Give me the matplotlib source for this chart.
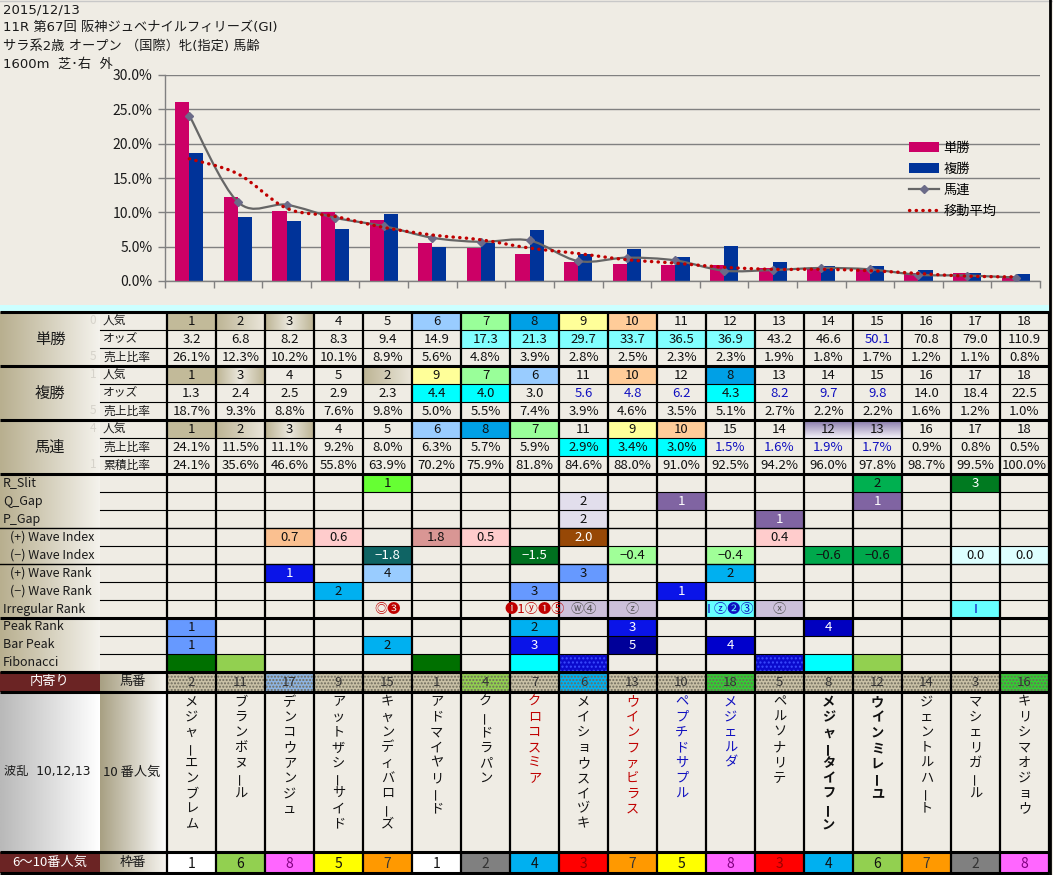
import numpy as np
import matplotlib
matplotlib.use('Agg')
import matplotlib.pyplot as plt
import matplotlib.colors as mcolors
from matplotlib.patches import Rectangle, PathPatch, Patch
from matplotlib.path import Path
from matplotlib.lines import Line2D

plt.rcParams['font.family'] = ['Noto Sans CJK JP', 'DejaVu Sans']
MIXED = ['DejaVu Sans', 'Noto Sans CJK JP']

# ---------------- data ----------------
header_lines = ["2015/12/13",
                "11R 第67回 阪神ジュベナイルフィリーズ(GI)",
                "サラ系2歳 オープン （国際）牝(指定) 馬齢",
                "1600m  芝･右  外"]

win_pop = [1, 2, 3, 4, 5, 6, 7, 8, 9, 10, 11, 12, 13, 14, 15, 16, 17, 18]
win_odds = [3.2, 6.8, 8.2, 8.3, 9.4, 14.9, 17.3, 21.3, 29.7, 33.7, 36.5, 36.9, 43.2, 46.6, 50.1, 70.8, 79.0, 110.9]
win_share = [26.1, 12.3, 10.2, 10.1, 8.9, 5.6, 4.8, 3.9, 2.8, 2.5, 2.3, 2.3, 1.9, 1.8, 1.7, 1.2, 1.1, 0.8]
place_pop = [1, 3, 4, 5, 2, 9, 7, 6, 11, 10, 12, 8, 13, 14, 15, 16, 17, 18]
place_odds = [1.3, 2.4, 2.5, 2.9, 2.3, 4.4, 4.0, 3.0, 5.6, 4.8, 6.2, 4.3, 8.2, 9.7, 9.8, 14.0, 18.4, 22.5]
place_share = [18.7, 9.3, 8.8, 7.6, 9.8, 5.0, 5.5, 7.4, 3.9, 4.6, 3.5, 5.1, 2.7, 2.2, 2.2, 1.6, 1.2, 1.0]
quin_pop = [1, 2, 3, 4, 5, 6, 8, 7, 11, 9, 10, 15, 14, 12, 13, 16, 17, 18]
quin_share = [24.1, 11.5, 11.1, 9.2, 8.0, 6.3, 5.7, 5.9, 2.9, 3.4, 3.0, 1.5, 1.6, 1.9, 1.7, 0.9, 0.8, 0.5]
quin_cum = [24.1, 35.6, 46.6, 55.8, 63.9, 70.2, 75.9, 81.8, 84.6, 88.0, 91.0, 92.5, 94.2, 96.0, 97.8, 98.7, 99.5, 100.0]
moving_avg = [17.8, 15.6, 10.6, 9.4, 7.8, 6.7, 6.0, 4.8, 4.0, 3.1, 2.6, 2.0, 1.7, 1.7, 1.5, 1.1, 0.7, 0.6]

r_slit = ['', '', '', '', '1', '', '', '', '', '', '', '', '', '', '2', '', '3', '']
q_gap = ['', '', '', '', '', '', '', '', '2', '', '1', '', '', '', '1', '', '', '']
p_gap = ['', '', '', '', '', '', '', '', '2', '', '', '', '1', '', '', '', '', '']
wave_index_plus = ['', '', '0.7', '0.6', '', '1.8', '0.5', '', '2.0', '', '', '', '0.4', '', '', '', '', '']
wave_index_minus = ['', '', '', '', '−1.8', '', '', '−1.5', '', '−0.4', '', '−0.4', '', '−0.6', '−0.6', '', '0.0', '0.0']
wave_rank_plus = ['', '', '1', '', '4', '', '', '', '3', '', '', '2', '', '', '', '', '', '']
wave_rank_minus = ['', '', '', '2', '', '', '', '3', '', '', '1', '', '', '', '', '', '', '']
irregular_rank = ['', '', '', '', '◎❸', '', '', '❶1ⓨ❶⑤', 'ⓦ④', 'ⓩ', '', 'I ⓩ❷③', 'ⓧ', '', '', '', 'I', '']
peak_rank = ['1', '', '', '', '', '', '', '2', '', '3', '', '', '', '4', '', '', '', '']
bar_peak = ['1', '', '', '', '2', '', '', '3', '', '5', '', '4', '', '', '', '', '', '']
fibonacci = ['', '', '', '', '', '', '', '', '', '', '', '', '', '', '', '', '', '']

horse_no = [2, 11, 17, 9, 15, 1, 4, 7, 6, 13, 10, 18, 5, 8, 12, 14, 3, 16]
horse_names = ["メジャーエンブレム", "ブランボヌール", "デンコウアンジュ", "アットザシーサイド",
               "キャンディバローズ", "アドマイヤリード", "クードラパン", "クロコスミア",
               "メイショウスイヅキ", "ウインファビラス", "ペプチドサプル", "メジェルダ",
               "ペルソナリテ", "メジャータイフーン", "ウインミレーユ", "ジェントルハート",
               "マシェリガール", "キリシマオジョウ"]
frame_no = [1, 6, 8, 5, 7, 1, 2, 4, 3, 7, 5, 8, 3, 4, 6, 7, 2, 8]

# ---------------- styles ----------------
W, H = 1053, 875
BG = '#EFECE4'
KHAKI = '#C2BA99'
C_WIN, C_PLACE, C_QUIN, C_MA = '#CC0066', '#003399', '#666666', '#C00000'

fig = plt.figure(figsize=(W / 100, H / 100), dpi=100, facecolor=BG)
tab = fig.add_axes([0, 0, 1, 1])
tab.set_xlim(0, W)
tab.set_ylim(H, 0)
tab.axis('off')
tab.set_zorder(0)

FS = 9.5


def rect(x0, y0, x1, y1, color, z=1, **kw):
    tab.add_patch(Rectangle((x0, y0), x1 - x0, y1 - y0, facecolor=color,
                            edgecolor=kw.pop('edgecolor', 'none'), zorder=z, **kw))


def grad(x0, y0, x1, y1, c0, c1, direction='h', mode='lin', z=1.2):
    t = np.linspace(0, 1, 64)
    if mode == 'center':
        t = 1 - np.abs(2 * t - 1)
    a = np.array(mcolors.to_rgb(c0))
    b = np.array(mcolors.to_rgb(c1))
    arr = a[None, :] * (1 - t[:, None]) + b[None, :] * t[:, None]
    img = arr[None, :, :] if direction == 'h' else arr[:, None, :]
    tab.imshow(img, extent=(x0, x1, y1, y0), aspect='auto',
               interpolation='bilinear', zorder=z)


# header
hdr_y = [10, 28, 46, 64]
for s, yy in zip(header_lines, hdr_y):
    tab.text(3, yy, s, fontsize=9.5, va='center', ha='left', color='#1a1a1a', family=MIXED)

# frame lines of top area
tab.plot([0, W], [0.5, 0.5], color='#C8C8C8', lw=1, zorder=5)
rect(0, 305, 1049, 311, '#CCFFFF', z=1)

# ---------------- table geometry ----------------
X0, CW, NC = 167, 49, 18
col_x = [X0 + i * CW for i in range(NC + 1)]
RT = 312
RH = 18
row_y = [RT + r * RH for r in range(21)]        # 20 rows -> 672
Y_NO0, Y_NO1 = 672, 692
Y_NM1 = 852
Y_FR1 = 873

# base background of data area
rect(100, RT, 1049, Y_FR1, BG, z=0.5)

# left label column gradient (rows 0..19)
grad(0, RT, 100, row_y[20], '#B8AF8F', '#F4F2EC')

group_labels = [('単勝', 0), ('複勝', 3), ('馬連', 6)]
for s, r in group_labels:
    tab.text(50, (row_y[r] + row_y[r + 3]) / 2, s, fontsize=11, ha='center', va='center',
             color='#1a1a1a', zorder=6)
sub_labels = ['人気', 'オッズ', '売上比率', '人気', 'オッズ', '売上比率', '人気', '売上比率', '累積比率']
for r, s in enumerate(sub_labels):
    tab.text(103, (row_y[r] + row_y[r + 1]) / 2, s, fontsize=8.5, ha='left', va='center',
             color='#1a1a1a', zorder=6)
faint = {0: '0', 2: '5', 3: '1', 5: '5', 6: '4', 8: '1'}
for r, s in faint.items():
    tab.text(93, (row_y[r] + row_y[r + 1]) / 2, s, fontsize=8.5, ha='center', va='center',
             color='#D6D3CB', zorder=6)

ind_labels = ['R_Slit', 'Q_Gap', 'P_Gap', '(+) Wave Index', '(−) Wave Index',
              '(+) Wave Rank', '(−) Wave Rank', 'Irregular Rank', 'Peak Rank', 'Bar Peak', 'Fibonacci']
for k, s in enumerate(ind_labels):
    r = 9 + k
    xx = 10 if s.startswith('(') else 3
    tab.text(xx, (row_y[r] + row_y[r + 1]) / 2, s, fontsize=9, ha='left', va='center',
             color='#1a1a1a', zorder=6)

# ---------------- table cells ----------------
main_rows = [
    [str(v) for v in win_pop],
    ['%.1f' % v for v in win_odds],
    ['%.1f%%' % v for v in win_share],
    [str(v) for v in place_pop],
    ['%.1f' % v for v in place_odds],
    ['%.1f%%' % v for v in place_share],
    [str(v) for v in quin_pop],
    ['%.1f%%' % v for v in quin_share],
    ['%.1f%%' % v for v in quin_cum],
]
ind_rows = [r_slit, q_gap, p_gap, wave_index_plus, wave_index_minus, wave_rank_plus,
            wave_rank_minus, irregular_rank, peak_rank, bar_peak, fibonacci]

LB, LG, B8, YL, PC = '#99CCFF', '#99FF99', '#00A0E6', '#FFFF99', '#FFCC99'
CY1, CY2 = '#80FFFF', '#00FFFF'
bg_map = {
    (0, 6): LB, (0, 7): LG, (0, 8): B8, (0, 9): YL, (0, 10): PC,
    (1, 7): CY1, (1, 8): CY1, (1, 9): CY1, (1, 10): CY1, (1, 11): CY1, (1, 12): CY1,
    (3, 6): YL, (3, 7): LG, (3, 8): LB, (3, 10): PC, (3, 12): B8,
    (4, 6): CY2, (4, 7): CY2, (4, 12): CY2,
    (6, 6): LB, (6, 7): B8, (6, 8): LG, (6, 10): YL, (6, 11): PC,
    (7, 9): CY2, (7, 10): CY2, (7, 11): CY2,
    (9, 5): '#66FF33', (9, 15): '#00B050', (9, 17): '#007A20',
    (10, 9): '#E2DEEC', (10, 11): '#8064A2', (10, 15): '#8064A2',
    (11, 9): '#E2DEEC', (11, 13): '#8064A2',
    (12, 3): '#FAC090', (12, 4): '#FFCCCC', (12, 6): '#D99694', (12, 7): '#FFCCCC',
    (12, 9): '#974806', (12, 13): '#FFCCCC',
    (13, 5): '#0F6464', (13, 8): '#00701F', (13, 10): '#A0FF98', (13, 12): '#A0FF98',
    (13, 14): '#00A84C', (13, 15): '#00A84C', (13, 17): '#DDFFFF', (13, 18): '#DDFFFF',
    (14, 3): '#0A14E8', (14, 5): '#99CCFF', (14, 9): '#6699FF', (14, 12): '#00B0F0',
    (15, 4): '#00B0F0', (15, 8): '#6699FF', (15, 11): '#0A14E8',
    (16, 9): '#CCC0DA', (16, 10): '#CCC0DA', (16, 12): '#66FFFF', (16, 13): '#CCC0DA',
    (16, 17): '#66FFFF',
    (17, 1): '#6699FF', (17, 8): '#00B0F0', (17, 10): '#0A14E8', (17, 14): '#0000C0',
    (18, 1): '#6699FF', (18, 5): '#00B0F0', (18, 8): '#0A14E8', (18, 10): '#000099',
    (18, 12): '#0000CC',
    (19, 1): '#007000', (19, 2): '#92D050', (19, 6): '#007000', (19, 8): '#00FFFF',
    (19, 14): '#00FFFF', (19, 15): '#92D050',
}
hatched_fib = [9, 13]
white_text = {(9, 17), (10, 11), (10, 15), (11, 13), (12, 9), (13, 5), (13, 8),
              (14, 3), (15, 11), (17, 10), (17, 14), (18, 8), (18, 10), (18, 12)}
blue_text = {(1, 15), (4, 9), (4, 10), (4, 11), (4, 13), (4, 14), (4, 15),
             (7, 12), (7, 13), (7, 14), (7, 15), (16, 12), (16, 17)}
red_text = {(16, 5), (16, 8)}
gray_text = {(16, 9), (16, 10), (16, 13)}
khaki_solid = {(0, 1), (3, 1), (6, 1)}
khaki_lr = {(0, 2), (3, 5), (6, 2)}
khaki_center = {(0, 3), (3, 2), (6, 3)}
purple_grad = {(6, 14), (6, 15)}

all_rows = main_rows + ind_rows
for r, vals in enumerate(all_rows):
    y0, y1 = row_y[r], row_y[r + 1]
    for c in range(NC):
        key = (r, c + 1)
        x0, x1 = col_x[c], col_x[c + 1]
        if key in bg_map:
            rect(x0, y0, x1, y1, bg_map[key], z=1)
        elif key in khaki_solid:
            rect(x0, y0, x1, y1, KHAKI, z=1)
        elif key in khaki_lr:
            grad(x0, y0, x1, y1, '#BDB494', '#EAE6DA')
        elif key in khaki_center:
            grad(x0, y0, x1, y1, '#BDB494', '#ECE9DF', mode='center')
        elif key in purple_grad:
            grad(x0, y0, x1, y1, '#8576A8', '#F4F2F8', direction='v')
        if r == 19 and (c + 1) in hatched_fib:
            tab.add_patch(Rectangle((x0, y0), x1 - x0, y1 - y0, facecolor='#0A0ACC',
                                    edgecolor='#3A4CFF', hatch='....', lw=0, zorder=1))
        s = vals[c]
        if s:
            col = '#111111'
            if key in white_text:
                col = 'white'
            elif key in blue_text:
                col = '#1010C0'
            elif key in red_text:
                col = '#C00000'
            elif key in gray_text:
                col = '#555555'
            t = tab.text((x0 + x1) / 2, (y0 + y1) / 2 + 0.5, s, fontsize=FS, ha='center',
                         va='center', color=col, zorder=6)
            clip = Rectangle((x0, y0), x1 - x0, y1 - y0, transform=tab.transData)
            t.set_clip_path(clip)

# ---------------- horse number row ----------------
rect(0, Y_NO0, 100, Y_NO1, '#6B2424', z=1)
tab.text(50, (Y_NO0 + Y_NO1) / 2, '内寄り', fontsize=FS, color='white', ha='center', va='center', zorder=6)
grad(100, Y_NO0, 167, Y_NO1, '#A8A083', '#F6F4EF')
tab.text(133, (Y_NO0 + Y_NO1) / 2, '馬番', fontsize=FS, color='#1a1a1a', ha='center', va='center', zorder=6)
no_bg = {3: '#8DB4E2', 7: '#92D050', 9: '#00B0F0', 12: '#33CC33', 18: '#33CC33'}
for c in range(NC):
    x0, x1 = col_x[c], col_x[c + 1]
    fc = no_bg.get(c + 1, '#C9C1A6')
    tab.add_patch(Rectangle((x0, Y_NO0), CW, Y_NO1 - Y_NO0, facecolor=fc,
                            edgecolor='#6E6A5C', hatch='.....', lw=0, zorder=1))
    tab.text((x0 + x1) / 2, (Y_NO0 + Y_NO1) / 2 + 0.5, str(horse_no[c]), fontsize=FS,
             color='#333333', ha='center', va='center', zorder=6)

# ---------------- names row ----------------
grad(0, Y_NO1, 100, Y_NM1, '#B9B9B9', '#FFFFFF')
grad(100, Y_NO1, 167, Y_NM1, '#A8A083', '#FFFFFF')
ymid = (Y_NO1 + Y_NM1) / 2
tab.text(4, ymid, '波乱  10,12,13', fontsize=8.8, ha='left', va='center', color='#1a1a1a',
         zorder=6, family=MIXED)
tab.text(103, ymid, '10 番人気', fontsize=FS, ha='left', va='center', color='#1a1a1a', zorder=6)
name_color = {8: '#C00000', 10: '#C00000', 11: '#1010C0', 12: '#1010C0'}
name_bold = {14, 15}
for c, nm in enumerate(horse_names):
    xc = (col_x[c] + col_x[c + 1]) / 2
    colr = name_color.get(c + 1, '#111111')
    wt = 'bold' if (c + 1) in name_bold else 'normal'
    for k, ch in enumerate(nm):
        rot = 90 if ch == 'ー' else 0
        tab.text(xc, 702 + k * 15.3, ch, fontsize=9.5, ha='center', va='center',
                 color=colr, fontweight=wt, rotation=rot, zorder=6)

# ---------------- frame row ----------------
rect(0, Y_NM1, 100, Y_FR1, '#6B2424', z=1)
tab.text(50, (Y_NM1 + Y_FR1) / 2, '6〜10番人気', fontsize=FS, color='white', ha='center', va='center', zorder=6)
grad(100, Y_NM1, 167, Y_FR1, '#A8A083', '#F6F4EF')
tab.text(133, (Y_NM1 + Y_FR1) / 2, '枠番', fontsize=FS, color='#1a1a1a', ha='center', va='center', zorder=6)
frame_bg = {1: '#FFFFFF', 2: '#808080', 3: '#FF0000', 4: '#00B0F0', 5: '#FFFF00',
            6: '#92D050', 7: '#FF9900', 8: '#FF66FF'}
frame_fg = {1: '#111111', 2: '#333333', 3: '#990000', 4: '#111111', 5: '#111111',
            6: '#111111', 7: '#333333', 8: '#800080'}
for c in range(NC):
    x0, x1 = col_x[c], col_x[c + 1]
    f = frame_no[c]
    rect(x0, Y_NM1, x1, Y_FR1, frame_bg[f], z=1)
    tab.text((x0 + x1) / 2, (Y_NM1 + Y_FR1) / 2 + 1, str(f), fontsize=10, color=frame_fg[f],
             ha='center', va='center', zorder=6)

# ---------------- grid lines ----------------
LC = '#000000'
for x in col_x:
    tab.plot([x, x], [RT, Y_FR1], color=LC, lw=1.6, zorder=5, solid_capstyle='butt')
thick_full = [RT, row_y[3], row_y[6], row_y[9], row_y[17], row_y[20], Y_NO1, Y_NM1, Y_FR1]
med_full = [row_y[12], row_y[14]]
for r in range(1, 20):
    y = row_y[r]
    if y in thick_full or y in med_full:
        continue
    tab.plot([100, 1049], [y, y], color=LC, lw=0.8, zorder=5)
for y in med_full:
    tab.plot([0, 1049], [y, y], color=LC, lw=1.0, zorder=5)
for y in thick_full:
    tab.plot([0, 1049], [y, y], color=LC, lw=2.2, zorder=5, solid_capstyle='butt')
tab.plot([1050, 1050], [0, H], color='#000000', lw=2, zorder=5)

tab.set_xlim(0, W)
tab.set_ylim(H, 0)

# ---------------- chart ----------------
ax = fig.add_axes([165 / W, 1 - 281 / H, 875 / W, 206 / H])
ax.set_zorder(2)
ax.patch.set_alpha(0)
x = np.arange(1, 19)
bw = 0.29
ax.bar(x - bw / 2, win_share, bw, color=C_WIN, zorder=2)
ax.bar(x + bw / 2, place_share, bw, color=C_PLACE, zorder=2)


def smooth_path(xs, ys):
    pts = np.column_stack([xs, ys]).astype(float)
    verts = [pts[0]]
    codes = [Path.MOVETO]
    n = len(pts)
    for i in range(n - 1):
        p0 = pts[i - 1] if i > 0 else pts[i]
        p1, p2 = pts[i], pts[i + 1]
        p3 = pts[i + 2] if i + 2 < n else pts[i + 1]
        verts += [p1 + (p2 - p0) / 6, p2 - (p3 - p1) / 6, p2]
        codes += [Path.CURVE4] * 3
    return Path(verts, codes)


ax.add_patch(PathPatch(smooth_path(x, quin_share), fill=False, edgecolor=C_QUIN,
                       lw=1.6, zorder=3))
ax.plot(x, quin_share, linestyle='none', marker='D', markersize=4.5,
        color='#6B6B88', zorder=4)
ax.add_patch(PathPatch(smooth_path(x, moving_avg), fill=False, edgecolor=C_MA,
                       lw=2.4, linestyle=(0, (0.1, 1.9)), capstyle='round', zorder=5))

ax.set_xlim(0.5, 18.5)
ax.set_ylim(0, 30)
ax.set_yticks(np.arange(0, 31, 5))
ax.set_yticklabels(['%.1f%%' % v for v in np.arange(0, 31, 5)], fontsize=10, color='#1a1a1a')
ax.set_xticks(np.arange(0.5, 19, 1))
ax.set_xticklabels([])
ax.tick_params(axis='both', length=5, color='#808080', width=1, pad=4)
ax.yaxis.grid(True, color='#808080', lw=1)
ax.set_axisbelow(True)
for sp in ['top', 'right']:
    ax.spines[sp].set_visible(False)
for sp in ['left', 'bottom']:
    ax.spines[sp].set_color('#808080')
    ax.spines[sp].set_linewidth(1)

handles = [Patch(facecolor=C_WIN), Patch(facecolor=C_PLACE),
           Line2D([], [], color=C_QUIN, lw=1.6, marker='D', markersize=4.5,
                  markerfacecolor='#6B6B88', markeredgecolor='#6B6B88'),
           Line2D([], [], color=C_MA, lw=2.4, linestyle=(0, (0.1, 1.9)), dash_capstyle='round')]
leg = ax.legend(handles, ['単勝', '複勝', '馬連', '移動平均'], loc='upper left',
                bbox_to_anchor=(909 / W, 1 - 142 / H), bbox_transform=fig.transFigure,
                frameon=False, fontsize=9.5, handlelength=2.3, handleheight=0.8,
                handletextpad=0.3, labelspacing=0.6, borderpad=0, borderaxespad=0)

fig.savefig('out.png', dpi=100, facecolor=BG)
